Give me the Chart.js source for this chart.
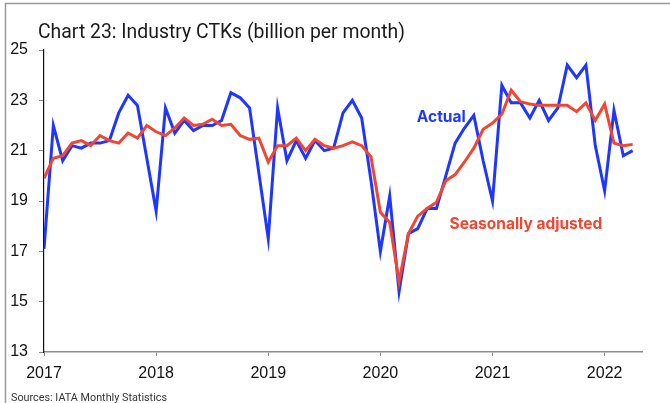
<!DOCTYPE html>
<html>
<head>
<meta charset="utf-8">
<script src="https://cdn.jsdelivr.net/npm/chart.js@4"></script>
<style>
  html, body { margin: 0; padding: 0; background: #fff; }
  #wrap { width: 670px; height: 403px; position: relative; }
</style>
</head>
<body>
<div id="wrap"><canvas id="ctkChart"></canvas></div>
<script>
// monthly CTKs, Jan 2017 .. Apr 2022 (billion)
const startYear = 2017;
const yearLabels = ["2017", "2018", "2019", "2020", "2021", "2022"];

const actual = [
  17.1, 22.0, 20.6, 21.2, 21.1, 21.3, 21.3, 21.4, 22.5, 23.2, 22.8, 20.7,
  18.6, 22.7, 21.7, 22.2, 21.8, 22.0, 22.0, 22.2, 23.3, 23.1, 22.7, 20.1,
  17.5, 22.7, 20.6, 21.4, 20.7, 21.4, 21.0, 21.1, 22.5, 23.0, 22.3, 19.8,
  17.0, 19.2, 15.4, 17.7, 17.9, 18.7, 18.7, 20.0, 21.3, 21.9, 22.4, 20.6,
  19.0, 23.6, 22.9, 22.9, 22.3, 23.0, 22.2, 22.7, 24.4, 23.9, 24.4, 21.2,
  19.4, 22.6, 20.8, 21.0
];

const seasonallyAdjusted = [
  19.9, 20.7, 20.8, 21.3, 21.4, 21.2, 21.6, 21.4, 21.3, 21.7, 21.5, 22.0,
  21.75, 21.6, 21.9, 22.3, 22.0, 22.05, 22.25, 22.0, 22.05, 21.6, 21.45, 21.5,
  20.55, 21.2, 21.2, 21.5, 21.0, 21.45, 21.2, 21.1, 21.2, 21.35, 21.2, 20.75,
  18.55, 18.15, 15.8, 17.7, 18.4, 18.7, 18.95, 19.8, 20.05, 20.55, 21.1, 21.85,
  22.1, 22.45, 23.4, 22.95, 22.85, 22.8, 22.8, 22.8, 22.8, 22.55, 22.9, 22.2,
  22.85, 21.3, 21.2, 21.25
];

const BLUE = "#1f36ff";
const RED = "#f04632";

const toPoints = (arr) => arr.map((v, i) => ({ x: i, y: v }));

// title, source line, series labels and the outer frame
const decorations = {
  id: "decorations",
  beforeDraw(chart) {
    const ctx = chart.ctx;
    ctx.save();
    ctx.fillStyle = "#fff";
    ctx.fillRect(0, 0, chart.width, chart.height);
    ctx.strokeStyle = "#9a9a9a";
    ctx.lineWidth = 1.5;
    ctx.beginPath();
    ctx.moveTo(5.5, chart.height);
    ctx.lineTo(5.5, 3.5);
    ctx.lineTo(chart.width, 3.5);
    ctx.stroke();
    ctx.restore();
  },
  afterDraw(chart) {
    const ctx = chart.ctx;
    const xs = chart.scales.x;
    const ys = chart.scales.y;

    // condensed look: squeeze text horizontally to a width
    const squeezed = (text, x, y, font, color, width) => {
      ctx.save();
      ctx.font = font;
      ctx.fillStyle = color;
      ctx.textBaseline = "alphabetic";
      ctx.textAlign = "left";
      const w = ctx.measureText(text).width;
      const sx = Math.min(1, width / w);
      ctx.translate(x, y);
      ctx.scale(sx, 1);
      ctx.fillText(text, 0, 0);
      ctx.restore();
    };
    squeezed("Chart 23: Industry CTKs (billion per month)", 38, 38,
      "20px Roboto", "#1a1a1a", 367);
    squeezed("Sources: IATA Monthly Statistics", 11, 401,
      "11px Roboto", "#333", 156);

    ctx.save();
    ctx.font = "bold 15.5px Inter";
    ctx.textAlign = "left";
    ctx.textBaseline = "middle";
    ctx.fillStyle = BLUE;
    ctx.fillText("Actual", xs.getPixelForValue(39.9), ys.getPixelForValue(22.33));
    ctx.fillStyle = RED;
    ctx.fillText("Seasonally adjusted", xs.getPixelForValue(43.4), ys.getPixelForValue(18.06));
    ctx.restore();
  }
};

const ctx2d = document.getElementById("ctkChart").getContext("2d");

new Chart(ctx2d, {
  type: "line",
  data: {
    datasets: [
      {
        label: "Actual",
        data: toPoints(actual),
        borderColor: BLUE,
        borderWidth: 3,
        pointRadius: 0,
        tension: 0,
        order: 2,
      },
      {
        label: "Seasonally adjusted",
        data: toPoints(seasonallyAdjusted),
        borderColor: RED,
        borderWidth: 3,
        pointRadius: 0,
        tension: 0,
        order: 1,
      },
    ],
  },
  options: {
    responsive: true,
    maintainAspectRatio: false,
    animation: false,
    layout: { padding: { top: 50, right: 28, bottom: 0, left: 0 } },
    plugins: {
      legend: { display: false },
      tooltip: { enabled: false },
    },
    scales: {
      x: {
        type: "linear",
        min: 0,
        max: 64,
        afterFit: (s) => { s.height = 51; },
        border: { color: "#8a8a8a", width: 1.5 },
        grid: { drawOnChartArea: false, tickLength: 4, color: "#8a8a8a" },
        ticks: {
          stepSize: 12,
          includeBounds: false,
          maxRotation: 0,
          padding: 8,
          color: "#111",
          font: { family: "Liberation Sans", size: 16 },
          callback: (v) => yearLabels[v / 12] ?? String(startYear + v / 12),
        },
      },
      y: {
        min: 13,
        max: 25,
        afterFit: (s) => { s.width = 44; },
        border: { color: "#111", width: 1.2 },
        grid: { drawOnChartArea: false, tickLength: 5, color: "#8a8a8a" },
        ticks: {
          stepSize: 2,
          padding: 11,
          color: "#111",
          font: { family: "Liberation Sans", size: 16 },
        },
      },
    },
  },
  plugins: [decorations],
});
</script>
</body>
</html>
